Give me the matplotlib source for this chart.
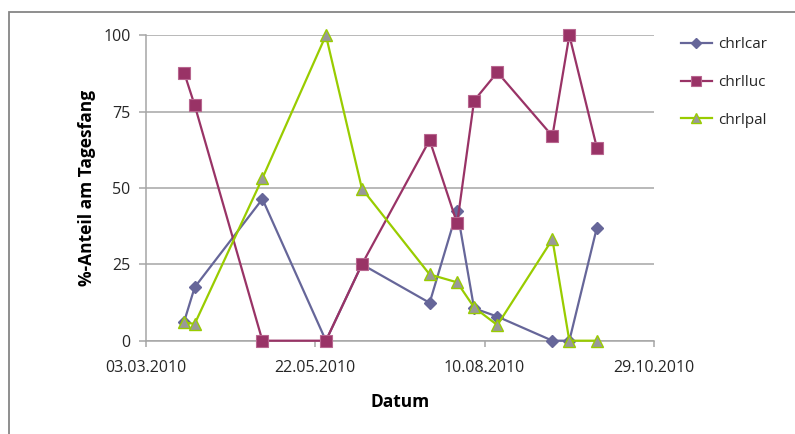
import matplotlib
matplotlib.use("Agg")
import matplotlib.pyplot as plt
import matplotlib.dates as mdates
import numpy as np
from datetime import datetime, timedelta
from matplotlib.patches import Rectangle

plt.rcParams["font.family"] = ["Open Sans", "DejaVu Sans"]

# sampling dates (shared by all three species)
dates = ["21.03.2010", "26.03.2010", "27.04.2010", "27.05.2010", "13.06.2010",
         "15.07.2010", "28.07.2010", "05.08.2010", "16.08.2010", "11.09.2010",
         "19.09.2010", "02.10.2010"]

chrlcar = [6.2, 17.5, 46.4, 0, 25, 12.4, 42.6, 10.6, 7.9, 0, 0, 37.0]
chrlluc = [87.8, 77.1, 0, 0, 25, 65.7, 38.4, 78.6, 87.9, 67.0, 100, 63.2]
chrlpal = [6.0, 5.5, 53.2, 100, 49.8, 21.7, 19.1, 10.9, 5.1, 33.2, 0, 0]

y_ticks = [0, 25, 50, 75, 100]
x_start = "03.03.2010"
x_end = "29.10.2010"
x_step_days = 80

to_dt = lambda s: datetime.strptime(s, "%d.%m.%Y")
x = [to_dt(d) for d in dates]

fig = plt.figure(figsize=(7.95, 4.34), dpi=100)
ax = fig.add_axes([146 / 795, 1 - 340.7 / 434, (654 - 146) / 795, (340.7 - 35.3) / 434])

ax.plot(x, chrlcar, color="#666699", lw=1.6, marker="D", markersize=6.5,
        markerfacecolor="#666699", markeredgecolor="#666699", label="chrlcar", zorder=3)
ax.plot(x, chrlluc, color="#993366", lw=1.6, marker="s", markersize=8,
        markerfacecolor="#993366", markeredgecolor="#b8668f", markeredgewidth=0.8,
        label="chrlluc", zorder=4)
ax.plot(x, chrlpal, color="#99cc00", lw=1.6, marker="^", markersize=9,
        markerfacecolor="#999999", markeredgecolor="#99cc00", markeredgewidth=1.0,
        label="chrlpal", zorder=5)

t0, t1 = to_dt(x_start), to_dt(x_end)
ax.set_xlim(t0, t1)
ticks = []
t = t0
while t <= t1:
    ticks.append(t)
    t += timedelta(days=x_step_days)
ax.set_xticks(ticks)
ax.xaxis.set_major_formatter(mdates.DateFormatter("%d.%m.%Y"))

ax.set_ylim(0, 100)
ax.set_yticks(y_ticks)
ax.yaxis.grid(True, color="#a6a6a6", lw=1.1)
ax.set_axisbelow(True)

for side in ("top", "right"):
    ax.spines[side].set_visible(False)
for side in ("left", "bottom"):
    ax.spines[side].set_color("#a6a6a6")
    ax.spines[side].set_linewidth(1.1)

ax.tick_params(axis="both", colors="#a6a6a6", labelcolor="#262626",
               labelsize=11.5, length=4, width=1.1)
ax.tick_params(axis="x", pad=10)
ax.tick_params(axis="y", pad=6)
ax.yaxis.set_tick_params(length=5)
for line in ax.get_lines():
    line.set_clip_on(False)

ax.set_xlabel("Datum", fontsize=12.5, fontweight="bold", labelpad=12)
ax.set_ylabel("%-Anteil am Tagesfang", fontsize=12.5, fontweight="bold", labelpad=5)

leg = fig.legend(loc="upper left", bbox_to_anchor=(681 / 795, 1 - 37 / 434), frameon=False,
                 fontsize=11, handlelength=2.0, handletextpad=0.4, borderpad=0,
                 borderaxespad=0, labelspacing=1.5, markerscale=0.85)
for txt in leg.get_texts():
    txt.set_color("#262626")

# chart frame
fig.patches.append(Rectangle((9 / 795, -0.1), 1.2, 1 - 12 / 434 + 0.1,
                             transform=fig.transFigure, fill=False,
                             edgecolor="#868686", lw=1.3))

fig.savefig("out.png", dpi=100)
